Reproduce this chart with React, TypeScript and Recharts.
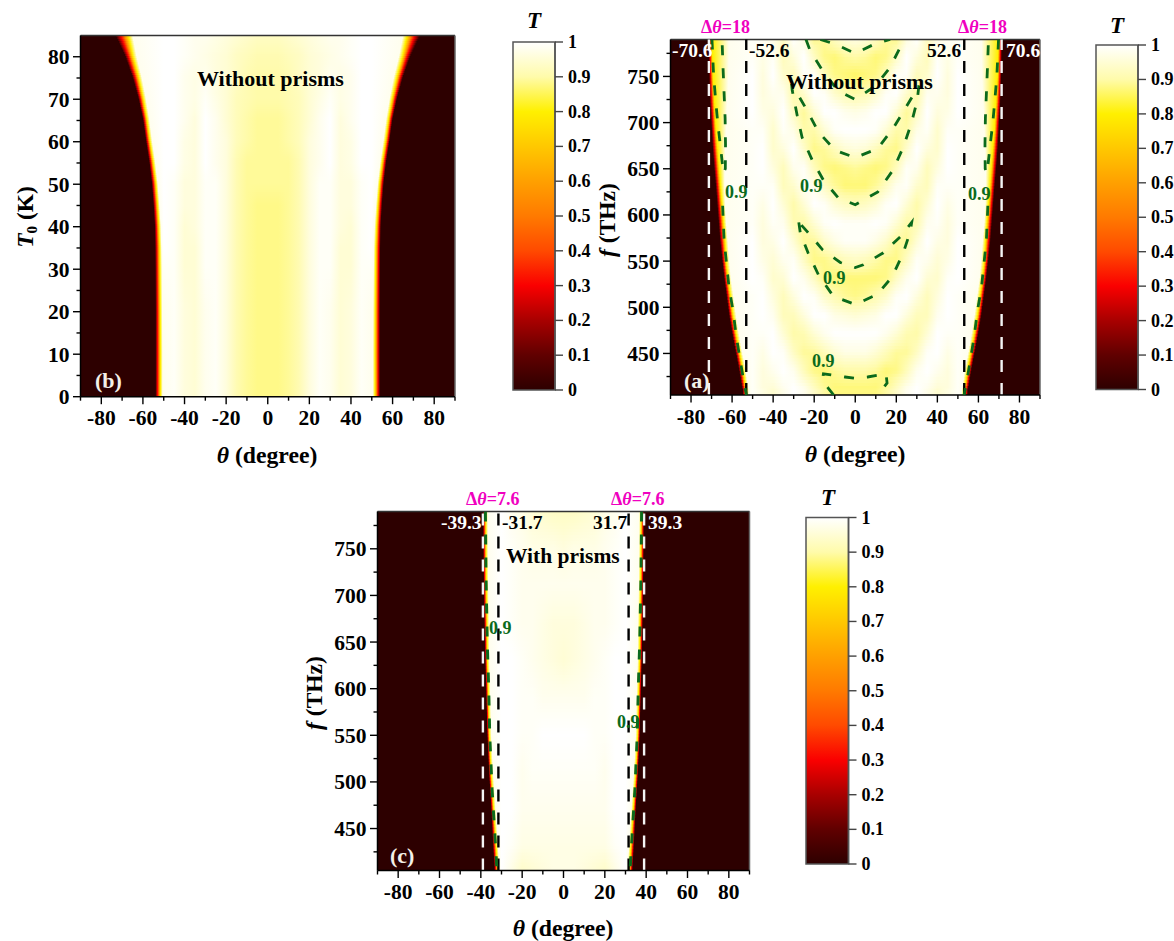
import React from "react";
import { ScatterChart, Scatter, XAxis, YAxis, ReferenceArea, ReferenceLine } from "recharts";

// ---------- colour scale (T -> colour) ----------
const scaleT = [0, 0.1, 0.2, 0.3, 0.4, 0.5, 0.6, 0.7, 0.8, 0.9, 1];
const scaleColors = ["#2d0000", "#600000", "#a80000", "#fa0000", "#ff4a00", "#ff7a00", "#ffa000", "#ffc800", "#fff000", "#fffbaa", "#ffffff"];

// ---------- axes ----------
const thetaTicks = [-90, -80, -70, -60, -50, -40, -30, -20, -10, 0, 10, 20, 30, 40, 50, 60, 70, 80, 90];
const thetaLabels = [-80, -60, -40, -20, 0, 20, 40, 60, 80];
const fTicks = [425, 450, 475, 500, 525, 550, 575, 600, 625, 650, 675, 700, 725, 750, 775];
const fLabels = [450, 500, 550, 600, 650, 700, 750];
const t0Ticks = [0, 5, 10, 15, 20, 25, 30, 35, 40, 45, 50, 55, 60, 65, 70, 75, 80];
const t0Labels = [0, 10, 20, 30, 40, 50, 60, 70, 80];
const barTicks = [0, 0.1, 0.2, 0.3, 0.4, 0.5, 0.6, 0.7, 0.8, 0.9, 1];

// ---------- panel (b): T values (percent), rows by T0, columns by |theta| ----------
const bCols = [0, 5, 10, 15, 20, 25, 30, 35, 40, 45, 50];
const bRows = [85, 80, 75, 70, 65, 60, 55, 50, 45, 40, 35, 30, 20, 10, 0];
const bGrid = [
  [93, 93, 94, 95, 96, 97, 98, 98, 99, 100, 100],
  [91, 91, 92, 93, 95, 96, 97, 98, 99, 100, 100],
  [90, 90, 91, 93, 95, 96, 98, 97, 98, 100, 100],
  [90, 90, 91, 92, 95, 97, 99, 97, 98, 100, 100],
  [89, 89, 90, 92, 95, 98, 100, 96, 98, 100, 100],
  [89, 89, 90, 92, 96, 98, 100, 96, 97, 100, 100],
  [89, 89, 89, 91, 96, 98, 100, 96, 97, 100, 100],
  [89, 89, 89, 91, 96, 99, 99, 96, 96, 99, 100],
  [88, 88, 89, 91, 96, 99, 99, 96, 96, 99, 100],
  [88, 88, 89, 91, 96, 99, 99, 96, 95, 99, 100],
  [88, 88, 89, 91, 96, 99, 99, 95, 95, 99, 100],
  [88, 88, 89, 91, 96, 99, 99, 95, 95, 99, 99],
  [88, 88, 89, 91, 96, 99, 98, 95, 96, 99, 98],
  [88, 88, 89, 91, 96, 99, 98, 95, 96, 99, 98],
  [88, 88, 89, 91, 96, 99, 98, 95, 96, 99, 98],
];
const bDark = [73.4, 68.6, 65, 62.2, 60, 58.6, 57, 55.8, 55, 54.4, 54.2, 54.1, 54, 54, 54];
const bYellow = [67, 64.8, 62, 59.8, 58, 56.6, 55, 53.7, 52.9, 52.3, 51.9, 51.8, 51.6, 51.5, 51.5];
const bShoulder = [65, 63, 60.5, 58.5, 56.8, 55.5, 54, 52.8, 52, 51.3, 51, 50.8, 50.6, 50.5, 50.5];

// ---------- panel (a) ----------
const aCols = [0, 5, 10, 15, 20, 25, 30, 35, 40, 45, 50];
const aRows = [790, 770, 750, 730, 710, 690, 670, 650, 630, 610, 590, 570, 550, 530, 510, 490, 470, 450, 430, 410, 405];
const aGrid = [
  [97, 96, 93, 89, 88, 96, 100, 93, 97, 99, 99],
  [90, 89, 87, 88, 93, 100, 96, 92, 99, 97, 99],
  [86, 87, 88, 92, 99, 99, 92, 94, 100, 96, 100],
  [90, 91, 94, 99, 100, 94, 90, 98, 98, 96, 100],
  [97, 98, 100, 100, 95, 89, 93, 100, 96, 97, 100],
  [100, 100, 99, 95, 90, 90, 97, 99, 94, 99, 99],
  [96, 95, 92, 89, 88, 94, 100, 96, 94, 100, 99],
  [89, 88, 87, 88, 92, 99, 98, 92, 96, 100, 99],
  [87, 87, 89, 93, 98, 99, 94, 92, 99, 99, 99],
  [92, 93, 95, 99, 100, 95, 90, 95, 100, 97, 99],
  [99, 99, 100, 99, 95, 90, 91, 98, 99, 96, 99],
  [99, 99, 97, 94, 89, 89, 95, 100, 97, 96, 100],
  [93, 92, 90, 88, 88, 93, 99, 98, 95, 97, 100],
  [87, 87, 87, 88, 93, 98, 100, 95, 94, 99, 100],
  [88, 89, 91, 94, 99, 100, 96, 92, 96, 100, 99],
  [95, 96, 97, 100, 100, 96, 92, 92, 98, 100, 99],
  [100, 100, 100, 98, 95, 91, 90, 95, 100, 99, 99],
  [97, 97, 95, 92, 89, 89, 93, 99, 100, 97, 99],
  [90, 90, 89, 87, 88, 92, 98, 100, 98, 96, 99],
  [87, 87, 87, 89, 93, 98, 100, 98, 95, 96, 99],
  [88, 88, 88, 90, 94, 98, 100, 97, 94, 97, 99],
];
const aDark = [71.5, 71.4, 71.2, 71, 70.5, 70, 69.5, 68.8, 68, 67.3, 66.6, 65.9, 64.9, 63.9, 62.7, 61.5, 60, 58.3, 56.6, 55.1, 54.7];
const aYellow = [69.8, 69.5, 69.3, 68.8, 68.3, 67.8, 67, 66.3, 65.6, 64.9, 64.1, 63.4, 62.9, 62, 60.7, 59.5, 58, 56.3, 54.6, 53.2, 52.8];
const aShoulder = [61.5, 61.5, 61.7, 62, 62.5, 62.8, 63.2, 63.5, 63.6, 63.3, 62.8, 62, 61.3, 60.5, 59.2, 58, 56.6, 55, 53.3, 52, 51.6];

// ---------- panel (c) ----------
const cCols = [0, 5, 10, 15, 20, 25, 30];
const cRows = [790, 750, 710, 670, 630, 590, 550, 510, 470, 430, 405];
const cGrid = [
  [93, 93, 94, 95, 97, 98, 100],
  [96, 97, 97, 97, 98, 99, 100],
  [98, 98, 98, 98, 98, 99, 100],
  [96, 96, 97, 98, 98, 99, 100],
  [95, 96, 97, 98, 99, 100, 100],
  [98, 98, 98, 99, 99, 100, 100],
  [100, 100, 100, 99, 99, 100, 100],
  [99, 99, 99, 99, 98, 100, 100],
  [98, 98, 98, 98, 98, 100, 100],
  [97, 97, 97, 97, 97, 99, 100],
  [97, 97, 96, 95, 94, 97, 100],
];
const cDark = [39, 38.9, 38.7, 38.4, 38, 37.5, 37, 36.2, 35.1, 34.2, 33.5];
const cYellow = [37.6, 37.5, 37.3, 37, 36.8, 36.3, 35.9, 35, 33.8, 32.6, 31.9];
const cShoulder = [36.6, 36.5, 36.3, 36, 35.8, 35.3, 34.9, 34, 32.8, 31.6, 30.9];

// ---------- 0.9 contours, [theta, f] ----------
const aTopArc = [[-17, 790], [-9.8, 785], [0, 775], [9.8, 785.5], [17, 790]];
const aTopOuter = [[-24, 790], [-22, 778], [-15.6, 755], [-8.3, 734.5], [0, 725], [10, 740], [17, 760], [22, 782], [24, 790]];
const aCrescentHigh = [[-31, 742], [-30.7, 735], [-28.3, 708], [-25.9, 684], [-21, 659.5], [-15.6, 638], [-8.3, 618.5], [0, 611], [11, 625], [18.5, 649], [23.4, 673.5], [27.3, 699], [30.2, 724], [31, 740], [24.4, 715.5], [18.5, 694], [11, 672], [0, 662], [-9.8, 670], [-18, 690], [-23.4, 713], [-31, 742]];
const aCrescentLow = [[-27.5, 592], [-26.8, 581], [-23, 559], [-18, 535.5], [-10.7, 512], [0, 503], [10.7, 514], [18, 533], [23.4, 559], [26.8, 582], [27.5, 592], [22, 576.5], [13.7, 559], [3.9, 546], [0, 543], [-7.3, 548.5], [-16, 562.5], [-23.4, 582], [-27.5, 592]];
const aLens = [[-10.5, 405], [-13, 412], [-16, 421], [-15.5, 428], [-5, 424.5], [0, 423], [6, 424.5], [15, 428], [15.5, 418], [11, 405]];
const aSliverLeft = [[-69.8, 790], [-69, 751], [-68, 724], [-67, 700], [-65.6, 673], [-64.2, 645], [-63.3, 650], [-63.2, 676], [-63.4, 705], [-63.9, 732], [-64.4, 759], [-64.9, 790]];
const aLowerLeft = [[-64.6, 610], [-63.9, 573], [-61.5, 521.5], [-59.5, 496], [-58, 469], [-56, 442], [-54.1, 417], [-53, 405]];
const cEdgeLeft = [[-37.8, 790], [-37.5, 720], [-36.9, 650], [-36.2, 600], [-35.7, 550], [-34.6, 493], [-33.4, 450], [-32.2, 405]];

// ---------- dashed markers ----------
const aWhiteLines = [-71.3, 71.3];
const aBlackLines = [-53.1, 53.1];
const cWhiteLines = [-39, 39];
const cBlackLines = [-31.5, 31.5];

const FONT = "'Liberation Serif', 'Times New Roman', serif";
const GREEN = "#0b6a1c";

function hex(c: string) {
  return [1, 3, 5].map((i) => parseInt(c.slice(i, i + 2), 16));
}
function colorOf(t: number) {
  const v = Math.max(0, Math.min(1, t));
  let i = 0;
  while (i < scaleT.length - 2 && v > scaleT[i + 1]) i++;
  const k = (v - scaleT[i]) / (scaleT[i + 1] - scaleT[i]);
  const a = hex(scaleColors[i]);
  const b = hex(scaleColors[i + 1]);
  return `rgb(${a.map((p, j) => Math.round(p + (b[j] - p) * k)).join(",")})`;
}
const mix = (a: number, b: number, k: number) => a + (b - a) * k;
const pts = (list: number[][]) => list.map(([x, y]) => ({ x, y }));
const mirror = (list: number[][]) => list.map(([x, y]) => ({ x: -x, y }));

type Heat = { rows: number[]; cols: number[]; grid: number[][]; dark: number[]; yellow: number[]; shoulder: number[] };

function buildStrips(id: string, h: Heat, step: number) {
  const out: { id: string; lo: number; hi: number; stops: { o: number; c: string }[] }[] = [];
  for (let i = 0; i < h.rows.length - 1; i++) {
    const sub = Math.max(1, Math.round(Math.abs(h.rows[i] - h.rows[i + 1]) / step));
    for (let s = 0; s < sub; s++) {
      const k = (s + 0.5) / sub;
      const top = mix(h.rows[i], h.rows[i + 1], s / sub);
      const bot = mix(h.rows[i], h.rows[i + 1], (s + 1) / sub);
      const dark = mix(h.dark[i], h.dark[i + 1], k);
      const yellow = mix(h.yellow[i], h.yellow[i + 1], k);
      const shoulder = mix(h.shoulder[i], h.shoulder[i + 1], k);
      const half: [number, number][] = [];
      h.cols.forEach((c, j) => {
        if (c < shoulder) half.push([c, mix(h.grid[i][j], h.grid[i + 1][j], k) / 100]);
      });
      half.push([shoulder, 0.98], [yellow, 0.8], [mix(yellow, dark, 0.3), 0.55], [mix(yellow, dark, 0.6), 0.3], [dark, 0], [90, 0]);
      const left = half.slice().reverse().map(([a, t]) => ({ o: (90 - a) / 180, c: colorOf(t) }));
      const right = half.slice(1).map(([a, t]) => ({ o: (90 + a) / 180, c: colorOf(t) }));
      out.push({ id: `${id}${i}_${s}`, lo: bot, hi: top, stops: [...left, ...right] });
    }
  }
  return out;
}

function Heatmap(strips: ReturnType<typeof buildStrips>) {
  return strips.map((st, idx) => {
    const over = idx === 0 ? 0 : (st.hi - st.lo) * 0.4;
    return (
      <ReferenceArea key={st.id} x1={-90} x2={90} y1={st.lo} y2={st.hi + over} fill={`url(#${st.id})`} fillOpacity={1} stroke="none" ifOverflow="visible" />
    );
  });
}
function Defs(strips: ReturnType<typeof buildStrips>) {
  return (
    <defs>
      {strips.map((st) => (
        <linearGradient key={st.id} id={st.id} x1="0" y1="0" x2="1" y2="0">
          {st.stops.map((p, i) => (
            <stop key={i} offset={p.o} stopColor={p.c} />
          ))}
        </linearGradient>
      ))}
    </defs>
  );
}

const bStrips = buildStrips("b", { rows: bRows, cols: bCols, grid: bGrid, dark: bDark, yellow: bYellow, shoulder: bShoulder }, 0.5);
const aStrips = buildStrips("a", { rows: aRows, cols: aCols, grid: aGrid, dark: aDark, yellow: aYellow, shoulder: aShoulder }, 3.4);
const cStrips = buildStrips("c", { rows: cRows, cols: cCols, grid: cGrid, dark: cDark, yellow: cYellow, shoulder: cShoulder }, 3.4);

function XTick({ x, y, payload, labels }: any) {
  const major = labels.includes(payload.value);
  return (
    <g>
      <line x1={x} x2={x} y1={y} y2={y + (major ? 7.5 : 4)} stroke="#000" strokeWidth={1.4} />
      {major && (
        <text x={x} y={y + 28.5} textAnchor="middle" fontFamily={FONT} fontWeight="bold" fontSize={21.5} fill="#000">
          {payload.value}
        </text>
      )}
    </g>
  );
}
function YTick({ x, y, payload, labels }: any) {
  const major = labels.includes(payload.value);
  return (
    <g>
      <line x1={x} x2={x - (major ? 7.5 : 4)} y1={y} y2={y} stroke="#000" strokeWidth={1.4} />
      {major && (
        <text x={x - 11} y={y + 7.5} textAnchor="end" fontFamily={FONT} fontWeight="bold" fontSize={21.5} fill="#000">
          {payload.value}
        </text>
      )}
    </g>
  );
}
function BarTick({ x, y, payload }: any) {
  return (
    <g>
      <line x1={x} x2={x + 8} y1={y} y2={y} stroke="#444" strokeWidth={1.4} />
      <text x={x + 13} y={y + 6} fontFamily={FONT} fontWeight="bold" fontSize={18} fill="#000">
        {payload.value}
      </text>
    </g>
  );
}

type Box = { left: number; top: number; right: number; bottom: number };
type Plot = { l: number; t: number; r: number; b: number };

function Txt({ box, x, y, size = 19.5, fill = "#000", anchor = "start", italic = false, children }: any) {
  return (
    <text x={x - box.left} y={y - box.top} fontFamily={FONT} fontWeight="bold" fontSize={size} fill={fill} textAnchor={anchor} fontStyle={italic ? "italic" : "normal"}>
      {children}
    </text>
  );
}
function VTxt({ box, x, y, children }: any) {
  const px = x - box.left;
  const py = y - box.top;
  return (
    <text transform={`translate(${px},${py}) rotate(-90)`} textAnchor="middle" fontFamily={FONT} fontWeight="bold" fontSize={23.5} fill="#000">
      {children}
    </text>
  );
}
const ThetaTitle = ({ box, x, y }: any) => (
  <Txt box={box} x={x} y={y} size={23.7} anchor="middle">
    <tspan fontStyle="italic">θ</tspan> (degree)
  </Txt>
);
const Delta = ({ box, x, y, v }: any) => (
  <Txt box={box} x={x} y={y} size={18} fill="#f000c0">
    Δ<tspan fontStyle="italic">θ</tspan>={v}
  </Txt>
);

function frame(box: Box, plot: Plot) {
  const margin = { top: plot.t - box.top, right: box.right - plot.r, left: 0, bottom: 0 };
  return {
    width: box.right - box.left,
    height: box.bottom - box.top,
    margin,
    yw: plot.l - box.left,
    xh: box.bottom - plot.b,
  };
}

function Panel({ box, plot, yDomain, yTicks, yLabels, strips, children, contours, labels }: any) {
  const f = frame(box, plot);
  return (
    <div style={{ position: "absolute", left: box.left, top: box.top, width: f.width, height: f.height }}>
      <ScatterChart width={f.width} height={f.height} margin={f.margin}>
        {Defs(strips)}
        <XAxis
          dataKey="x"
          type="number"
          domain={[-90, 90]}
          ticks={thetaTicks}
          interval={0}
          allowDataOverflow
          height={f.xh}
          tickLine={false}
          tickSize={0}
          tickMargin={0}
          axisLine={{ stroke: "#000", strokeWidth: 1.5 }}
          tick={(p: any) => <XTick {...p} labels={thetaLabels} />}
        />
        <YAxis
          dataKey="y"
          type="number"
          domain={yDomain}
          ticks={yTicks}
          interval={0}
          allowDataOverflow
          width={f.yw}
          tickLine={false}
          tickSize={0}
          tickMargin={0}
          axisLine={{ stroke: "#000", strokeWidth: 1.5 }}
          tick={(p: any) => <YTick {...p} labels={yLabels} />}
        />
        {Heatmap(strips)}
        <ReferenceLine y={yDomain[1]} stroke="#333" strokeWidth={1.5} ifOverflow="visible" />
        <ReferenceLine x={90} stroke="#666" strokeWidth={1.5} ifOverflow="visible" />
        {contours}
        {children}
      </ScatterChart>
      <svg width={f.width} height={f.height} style={{ position: "absolute", left: 0, top: 0, pointerEvents: "none" }}>
        {labels}
      </svg>
    </div>
  );
}

const contour = (key: string, data: { x: number; y: number }[], width = 2.8) => (
  <Scatter
    key={key}
    data={data}
    isAnimationActive={false}
    line={{ stroke: GREEN, strokeWidth: width, strokeDasharray: "10 13" }}
    shape={() => <g />}
  />
);
const vline = (key: string, x: number, color: string) => (
  <ReferenceLine key={key} x={x} stroke={color} strokeWidth={2.4} strokeDasharray="12 11" ifOverflow="visible" />
);

function ColorBar({ box, plot, titleX, titleY, id }: any) {
  const w = box.right - box.left;
  const h = box.bottom - box.top;
  const data = scaleT.map((t) => ({ x: 0.5, y: t }));
  const order = scaleT.map((t, i) => ({ t, c: scaleColors[i] })).reverse();
  return (
    <div style={{ position: "absolute", left: box.left, top: box.top, width: w, height: h }}>
      <ScatterChart width={w} height={h} margin={{ top: plot.t - box.top, right: 0, left: plot.l - box.left, bottom: box.bottom - plot.b }}>
        <defs>
          <linearGradient id={id} x1="0" y1="0" x2="0" y2="1">
            {order.map((s) => (
              <stop key={s.t} offset={1 - s.t} stopColor={s.c} />
            ))}
          </linearGradient>
        </defs>
        <XAxis dataKey="x" type="number" domain={[0, 1]} hide />
        <YAxis
          dataKey="y"
          type="number"
          orientation="right"
          domain={[0, 1]}
          ticks={barTicks}
          interval={0}
          width={box.right - plot.r}
          tickLine={false}
          tickSize={0}
          tickMargin={0}
          axisLine={{ stroke: "#555", strokeWidth: 1.5 }}
          tick={(p: any) => <BarTick {...p} />}
        />
        <ReferenceArea x1={0} x2={1} y1={0} y2={1} fill={`url(#${id})`} fillOpacity={1} stroke="#555" strokeWidth={1.5} />
        <Scatter data={data} isAnimationActive={false} shape={() => <g />} />
        <Txt box={box} x={titleX} y={titleY} size={23} anchor="middle" italic>
          T
        </Txt>
      </ScatterChart>
    </div>
  );
}

const boxB: Box = { left: 0, top: 10, right: 470, bottom: 478 };
const plotB: Plot = { l: 80.5, t: 35.5, r: 455, b: 396.7 };
const boxA: Box = { left: 592, top: 10, right: 1060, bottom: 478 };
const plotA: Plot = { l: 670.5, t: 39.5, r: 1040, b: 395 };
const boxC: Box = { left: 300, top: 482, right: 765, bottom: 941 };
const plotC: Plot = { l: 377.5, t: 511.5, r: 749.5, b: 870.5 };

export default function App() {
  return (
    <div style={{ position: "absolute", left: 0, top: 0, width: 1174, height: 941, background: "#fff", overflow: "hidden" }}>
      <Panel
        box={boxB}
        plot={plotB}
        yDomain={[0, 85]}
        yTicks={t0Ticks}
        yLabels={t0Labels}
        strips={bStrips}
        labels={
          <>
            <Txt box={boxB} x={197} y={86} size={22}>Without prisms</Txt>
            <Txt box={boxB} x={95} y={388} size={22} fill="#f4f0e8">(b)</Txt>
            <ThetaTitle box={boxB} x={267} y={463} />
            <VTxt box={boxB} x={33} y={217}>
              <tspan fontStyle="italic">T</tspan>
              <tspan fontSize={15} dy={4}>0</tspan>
              <tspan dy={-4}> (K)</tspan>
            </VTxt>
          </>
        }
      >
        <Scatter data={[]} isAnimationActive={false} />
      </Panel>

      <ColorBar id="barB" box={{ left: 490, top: 5, right: 592, bottom: 400 }} plot={{ l: 513, t: 42, r: 555, b: 390 }} titleX={534} titleY={28} />

      <Panel
        box={boxA}
        plot={plotA}
        yDomain={[405, 790]}
        yTicks={fTicks}
        yLabels={fLabels}
        strips={aStrips}
        contours={[
          contour("a1", pts(aTopArc)),
          contour("a2", pts(aTopOuter)),
          contour("a3", pts(aCrescentHigh)),
          contour("a4", pts(aCrescentLow)),
          contour("a5", pts(aLens)),
          contour("a6", pts(aSliverLeft)),
          contour("a7", mirror(aSliverLeft)),
          contour("a8", pts(aLowerLeft)),
          contour("a9", mirror(aLowerLeft)),
        ]}
        labels={
          <>
            <Txt box={boxA} x={786} y={89} size={22}>Without prisms</Txt>
            <Txt box={boxA} x={684} y={388} size={22} fill="#f4f0e8">(a)</Txt>
            <Txt box={boxA} x={672} y={57} fill="#fff">-70.6</Txt>
            <Txt box={boxA} x={749} y={57}>-52.6</Txt>
            <Txt box={boxA} x={927} y={57}>52.6</Txt>
            <Txt box={boxA} x={1006} y={57} fill="#fff">70.6</Txt>
            <Delta box={boxA} x={701} y={33} v={18} />
            <Delta box={boxA} x={958} y={33} v={18} />
            <Txt box={boxA} x={725} y={198} size={18} fill={GREEN}>0.9</Txt>
            <Txt box={boxA} x={800} y={192} size={18} fill={GREEN}>0.9</Txt>
            <Txt box={boxA} x={968} y={200} size={18} fill={GREEN}>0.9</Txt>
            <Txt box={boxA} x={823} y={284} size={18} fill={GREEN}>0.9</Txt>
            <Txt box={boxA} x={812} y={367} size={18} fill={GREEN}>0.9</Txt>
            <ThetaTitle box={boxA} x={855} y={462} />
            <VTxt box={boxA} x={615} y={220}>
              <tspan fontStyle="italic">f</tspan> (THz)
            </VTxt>
          </>
        }
      >
        {aWhiteLines.map((x) => vline(`aw${x}`, x, "#f4f4f4"))}
        {aBlackLines.map((x) => vline(`ab${x}`, x, "#000"))}
      </Panel>

      <ColorBar id="barA" box={{ left: 1074, top: 5, right: 1174, bottom: 400 }} plot={{ l: 1096, t: 45, r: 1138, b: 389.5 }} titleX={1117} titleY={33} />

      <Panel
        box={boxC}
        plot={plotC}
        yDomain={[405, 790]}
        yTicks={fTicks}
        yLabels={fLabels}
        strips={cStrips}
        contours={[contour("c1", pts(cEdgeLeft), 3), contour("c2", mirror(cEdgeLeft), 3)]}
        labels={
          <>
            <Txt box={boxC} x={506} y={563} size={21.5}>With prisms</Txt>
            <Txt box={boxC} x={390} y={863} size={22} fill="#f4f0e8">(c)</Txt>
            <Txt box={boxC} x={441} y={529} fill="#fff">-39.3</Txt>
            <Txt box={boxC} x={502} y={529}>-31.7</Txt>
            <Txt box={boxC} x={593} y={529}>31.7</Txt>
            <Txt box={boxC} x={648} y={529} fill="#fff">39.3</Txt>
            <Delta box={boxC} x={466} y={505} v={7.6} />
            <Delta box={boxC} x={611} y={505} v={7.6} />
            <Txt box={boxC} x={489} y={634} size={18} fill={GREEN}>0.9</Txt>
            <Txt box={boxC} x={617} y={728} size={18} fill={GREEN}>0.9</Txt>
            <ThetaTitle box={boxC} x={563} y={936} />
            <VTxt box={boxC} x={322} y={693}>
              <tspan fontStyle="italic">f</tspan> (THz)
            </VTxt>
          </>
        }
      >
        {cWhiteLines.map((x) => vline(`cw${x}`, x, "#f4f4f4"))}
        {cBlackLines.map((x) => vline(`cb${x}`, x, "#000"))}
      </Panel>

      <ColorBar id="barC" box={{ left: 785, top: 485, right: 900, bottom: 880 }} plot={{ l: 806, t: 517.5, r: 848.5, b: 864 }} titleX={828} titleY={505} />
    </div>
  );
}
